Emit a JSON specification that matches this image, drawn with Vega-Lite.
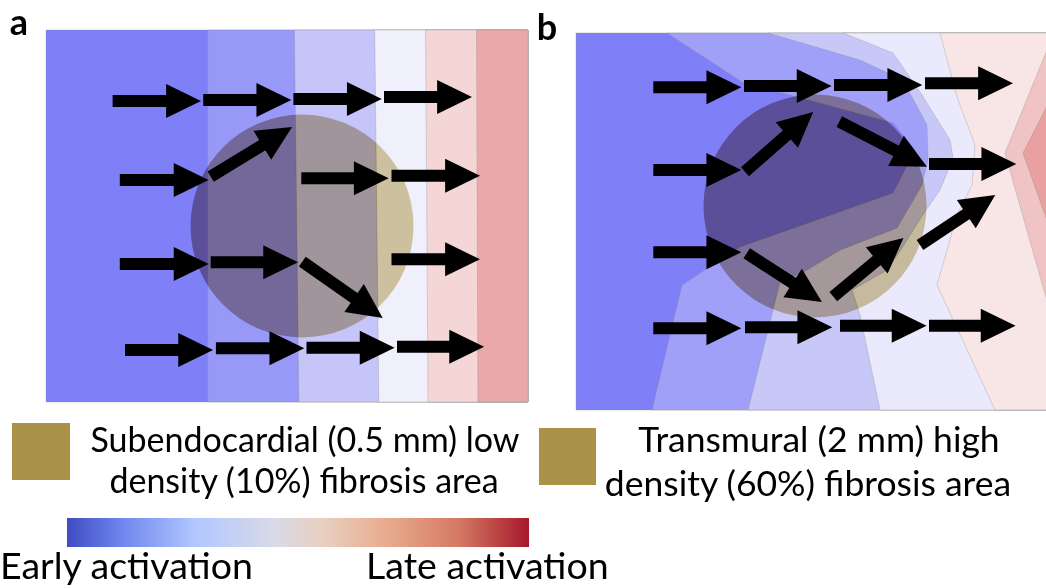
{
  "$schema": "https://vega.github.io/schema/vega-lite/v6.json",
  "width": 1046,
  "height": 588,
  "autosize": {"type": "fit", "contains": "padding"},
  "padding": 0,
  "background": "white",
  "view": {"stroke": null},
  "config": {"font": "Lato"},
  "datasets": {
    "bands": [
      {"band": "a1", "i": 0, "x": 46, "y": 30}, {"band": "a1", "i": 1, "x": 528, "y": 30}, {"band": "a1", "i": 2, "x": 528, "y": 402}, {"band": "a1", "i": 3, "x": 46, "y": 402},
      {"band": "a2", "i": 0, "x": 207.6, "y": 30}, {"band": "a2", "i": 1, "x": 528, "y": 30}, {"band": "a2", "i": 2, "x": 528, "y": 402}, {"band": "a2", "i": 3, "x": 207.6, "y": 402},
      {"band": "a3", "i": 0, "x": 294.4, "y": 30}, {"band": "a3", "i": 1, "x": 528, "y": 30}, {"band": "a3", "i": 2, "x": 528, "y": 402}, {"band": "a3", "i": 3, "x": 298.9, "y": 402},
      {"band": "a4", "i": 0, "x": 374.7, "y": 30}, {"band": "a4", "i": 1, "x": 528, "y": 30}, {"band": "a4", "i": 2, "x": 528, "y": 402}, {"band": "a4", "i": 3, "x": 378.8, "y": 402},
      {"band": "a5", "i": 0, "x": 425.6, "y": 30}, {"band": "a5", "i": 1, "x": 528, "y": 30}, {"band": "a5", "i": 2, "x": 528, "y": 402}, {"band": "a5", "i": 3, "x": 428, "y": 402},
      {"band": "a6", "i": 0, "x": 476.5, "y": 30}, {"band": "a6", "i": 1, "x": 528, "y": 30}, {"band": "a6", "i": 2, "x": 528, "y": 402}, {"band": "a6", "i": 3, "x": 477.9, "y": 402},
      {"band": "b1", "i": 0, "x": 576, "y": 33}, {"band": "b1", "i": 1, "x": 1150, "y": 33}, {"band": "b1", "i": 2, "x": 1150, "y": 410}, {"band": "b1", "i": 3, "x": 576, "y": 410},
      {"band": "b2", "i": 0, "x": 667, "y": 33}, {"band": "b2", "i": 1, "x": 742, "y": 82}, {"band": "b2", "i": 2, "x": 893, "y": 123}, {"band": "b2", "i": 3, "x": 915, "y": 150}, {"band": "b2", "i": 4, "x": 893, "y": 193}, {"band": "b2", "i": 5, "x": 740, "y": 247}, {"band": "b2", "i": 6, "x": 682, "y": 285}, {"band": "b2", "i": 7, "x": 652, "y": 410}, {"band": "b2", "i": 8, "x": 1150, "y": 410}, {"band": "b2", "i": 9, "x": 1150, "y": 33},
      {"band": "b3", "i": 0, "x": 768, "y": 33}, {"band": "b3", "i": 1, "x": 860, "y": 60}, {"band": "b3", "i": 2, "x": 903, "y": 80}, {"band": "b3", "i": 3, "x": 927, "y": 125}, {"band": "b3", "i": 4, "x": 928, "y": 160}, {"band": "b3", "i": 5, "x": 922, "y": 185}, {"band": "b3", "i": 6, "x": 897, "y": 228}, {"band": "b3", "i": 7, "x": 840, "y": 250}, {"band": "b3", "i": 8, "x": 807, "y": 270}, {"band": "b3", "i": 9, "x": 780, "y": 282}, {"band": "b3", "i": 10, "x": 748, "y": 410}, {"band": "b3", "i": 11, "x": 1150, "y": 410}, {"band": "b3", "i": 12, "x": 1150, "y": 33},
      {"band": "b4", "i": 0, "x": 843, "y": 33}, {"band": "b4", "i": 1, "x": 893, "y": 53}, {"band": "b4", "i": 2, "x": 920, "y": 92}, {"band": "b4", "i": 3, "x": 950, "y": 140}, {"band": "b4", "i": 4, "x": 953, "y": 158}, {"band": "b4", "i": 5, "x": 940, "y": 190}, {"band": "b4", "i": 6, "x": 922, "y": 216}, {"band": "b4", "i": 7, "x": 902, "y": 248}, {"band": "b4", "i": 8, "x": 887, "y": 270}, {"band": "b4", "i": 9, "x": 852, "y": 290}, {"band": "b4", "i": 10, "x": 860, "y": 315}, {"band": "b4", "i": 11, "x": 880, "y": 410}, {"band": "b4", "i": 12, "x": 1150, "y": 410}, {"band": "b4", "i": 13, "x": 1150, "y": 33},
      {"band": "b5", "i": 0, "x": 940, "y": 33}, {"band": "b5", "i": 1, "x": 957, "y": 97}, {"band": "b5", "i": 2, "x": 975, "y": 145}, {"band": "b5", "i": 3, "x": 972, "y": 185}, {"band": "b5", "i": 4, "x": 957, "y": 215}, {"band": "b5", "i": 5, "x": 937, "y": 285}, {"band": "b5", "i": 6, "x": 995, "y": 410}, {"band": "b5", "i": 7, "x": 1150, "y": 410}, {"band": "b5", "i": 8, "x": 1150, "y": 33},
      {"band": "b6", "i": 0, "x": 1054, "y": 33}, {"band": "b6", "i": 1, "x": 1005, "y": 153}, {"band": "b6", "i": 2, "x": 1078, "y": 410}, {"band": "b6", "i": 3, "x": 1150, "y": 410}, {"band": "b6", "i": 4, "x": 1150, "y": 33},
      {"band": "b7", "i": 0, "x": 1084, "y": 33}, {"band": "b7", "i": 1, "x": 1023, "y": 153}, {"band": "b7", "i": 2, "x": 1114, "y": 410}, {"band": "b7", "i": 3, "x": 1150, "y": 410}, {"band": "b7", "i": 4, "x": 1150, "y": 33}
    ],
    "fibrosis": [
      {"panel": "a", "x": 302, "y": 226},
      {"panel": "b", "x": 815, "y": 206}
    ],
    "arrows": [
      {"id": "A1", "x": 112.6, "y": 101, "x2": 168.7, "y2": 101, "ang": 0},
      {"id": "A2", "x": 203.2, "y": 100, "x2": 259, "y2": 100, "ang": 0},
      {"id": "A3", "x": 293.4, "y": 99, "x2": 349.5, "y2": 99, "ang": 0},
      {"id": "A4", "x": 384, "y": 97, "x2": 439.7, "y2": 97, "ang": 0},
      {"id": "B1", "x": 119.8, "y": 180, "x2": 176.3, "y2": 180, "ang": 0},
      {"id": "B2", "x": 210.7, "y": 176.7, "x2": 264.5, "y2": 143.9, "ang": -31.4},
      {"id": "B3", "x": 301.3, "y": 178.3, "x2": 356.4, "y2": 178.3, "ang": 0},
      {"id": "B4", "x": 391.5, "y": 175.7, "x2": 447.7, "y2": 175.7, "ang": 0},
      {"id": "C1", "x": 119.8, "y": 264, "x2": 176.3, "y2": 264, "ang": 0},
      {"id": "C2", "x": 210.7, "y": 262.3, "x2": 265.8, "y2": 262.3, "ang": 0},
      {"id": "C3", "x": 302.3, "y": 261.7, "x2": 356.2, "y2": 299.4, "ang": 34.9},
      {"id": "C4", "x": 391.5, "y": 259.3, "x2": 447.7, "y2": 259.3, "ang": 0},
      {"id": "D1", "x": 125, "y": 350, "x2": 180.8, "y2": 350, "ang": 0},
      {"id": "D2", "x": 215.9, "y": 348.3, "x2": 272, "y2": 348.3, "ang": 0},
      {"id": "D3", "x": 306.5, "y": 347.7, "x2": 362.3, "y2": 347.7, "ang": 0},
      {"id": "D4", "x": 397, "y": 346.7, "x2": 451.8, "y2": 346.7, "ang": 0},
      {"id": "E1", "x": 653.3, "y": 87.3, "x2": 709, "y2": 87.3, "ang": 0},
      {"id": "E2", "x": 744, "y": 86, "x2": 799.3, "y2": 86, "ang": 0},
      {"id": "E3", "x": 834, "y": 85, "x2": 890, "y2": 85, "ang": 0},
      {"id": "E4", "x": 925, "y": 83.3, "x2": 980.7, "y2": 83.3, "ang": 0},
      {"id": "F1", "x": 653.3, "y": 170, "x2": 709, "y2": 170, "ang": 0},
      {"id": "F2", "x": 745, "y": 171.7, "x2": 788.8, "y2": 133.3, "ang": -41},
      {"id": "F3", "x": 839.3, "y": 121.7, "x2": 898.3, "y2": 152, "ang": 27.3},
      {"id": "F4", "x": 929, "y": 164, "x2": 984, "y2": 164, "ang": 0},
      {"id": "G1", "x": 653.3, "y": 252.3, "x2": 709, "y2": 252.3, "ang": 0},
      {"id": "G2", "x": 746.7, "y": 253.3, "x2": 794.8, "y2": 284.4, "ang": 32.8},
      {"id": "G3", "x": 833.3, "y": 296.7, "x2": 878.7, "y2": 258.8, "ang": -39.8},
      {"id": "G4", "x": 920, "y": 245, "x2": 968.4, "y2": 212.8, "ang": -33.7},
      {"id": "H1", "x": 653.3, "y": 328.3, "x2": 709, "y2": 328.3, "ang": 0},
      {"id": "H2", "x": 745, "y": 327.3, "x2": 800, "y2": 327.3, "ang": 0},
      {"id": "H3", "x": 840, "y": 325.7, "x2": 894.3, "y2": 325.7, "ang": 0},
      {"id": "H4", "x": 929, "y": 325.7, "x2": 983.3, "y2": 325.7, "ang": 0}
    ],
    "swatches": [
      {"panel": "a", "x": 12, "x2": 70, "y": 423, "y2": 480},
      {"panel": "b", "x": 539, "x2": 596, "y": 428, "y2": 485}
    ],
    "colorbar": [
      {"x": 67, "x2": 529, "y": 518, "y2": 547}
    ],
    "legendTextA": [
      {"x": 305, "y": 452, "text": "Subendocardial (0.5 mm) low"},
      {"x": 304, "y": 493, "text": "density (10%) fibrosis area"}
    ],
    "legendTextB": [
      {"x": 819, "y": 452, "text": "Transmural (2 mm) high"},
      {"x": 808, "y": 496, "text": "density (60%) fibrosis area"}
    ],
    "barText": [
      {"x": 0, "y": 579, "text": "Early activation"},
      {"x": 366, "y": 579, "text": "Late activation"}
    ],
    "panelLabels": [
      {"x": 19, "y": 35, "text": "a"},
      {"x": 547, "y": 40, "text": "b"}
    ]
  },
  "encoding": {
    "x": {"field": "x", "type": "quantitative", "scale": {"domain": [0, 1046], "nice": false, "zero": false}, "axis": null},
    "y": {"field": "y", "type": "quantitative", "scale": {"domain": [0, 588], "nice": false, "zero": false, "reverse": true}, "axis": null}
  },
  "layer": [
    {
      "data": {"name": "bands"},
      "mark": {"type": "line", "interpolate": "linear-closed", "stroke": "#8a8a8a", "strokeWidth": 0.6, "strokeOpacity": 0.55, "clip": true},
      "encoding": {
        "order": {"field": "i", "type": "quantitative"},
        "detail": {"field": "band", "type": "nominal"},
        "fill": {"field": "band", "type": "nominal", "legend": null,
          "scale": {"domain": ["a1", "a2", "a3", "a4", "a5", "a6", "b1", "b2", "b3", "b4", "b5", "b6", "b7"],
                    "range": ["#7f7ff8", "#9898f8", "#c5c5fa", "#f0f0fc", "#f4d6d6", "#eaa8a8", "#7f7ff8", "#a0a0f8", "#c8c8f8", "#eaeafc", "#f8e6e6", "#f0c4c4", "#e9a0a0"]}}
      }
    },
    {
      "data": {"name": "fibrosis"},
      "mark": {"type": "point", "shape": "circle", "filled": true, "size": 49729, "fill": "#24305e", "opacity": 1, "strokeWidth": 0, "blend": "difference"},
      "encoding": {}
    },
    {
      "data": {"name": "arrows"},
      "mark": {"type": "rule", "strokeWidth": 12, "strokeCap": "butt", "color": "black"},
      "encoding": {
        "x2": {"field": "x2"},
        "y2": {"field": "y2"}
      }
    },
    {
      "data": {"name": "arrows"},
      "mark": {"type": "point", "shape": "M-0.15,-1L1.9,0L-0.15,1Z", "filled": true, "size": 1156, "color": "black", "opacity": 1, "strokeWidth": 0},
      "encoding": {
        "x": {"field": "x2", "type": "quantitative"},
        "y": {"field": "y2", "type": "quantitative"},
        "angle": {"field": "ang", "type": "quantitative", "scale": null}
      }
    },
    {
      "data": {"name": "swatches"},
      "mark": {"type": "rect", "color": "#aa9248"},
      "encoding": {
        "x2": {"field": "x2"},
        "y2": {"field": "y2"}
      }
    },
    {
      "data": {"name": "colorbar"},
      "mark": {"type": "rect", "fill": {"gradient": "linear", "x1": 0, "y1": 0, "x2": 1, "y2": 0,
        "stops": [
          {"offset": 0, "color": "#3f4cc4"},
          {"offset": 0.12, "color": "#6f86ee"},
          {"offset": 0.28, "color": "#b2c8ff"},
          {"offset": 0.45, "color": "#d8dae6"},
          {"offset": 0.55, "color": "#e8d0c2"},
          {"offset": 0.7, "color": "#e8a98c"},
          {"offset": 0.85, "color": "#d47862"},
          {"offset": 1, "color": "#a5182c"}
        ]}},
      "encoding": {
        "x2": {"field": "x2"},
        "y2": {"field": "y2"}
      }
    },
    {
      "data": {"name": "legendTextA"},
      "mark": {"type": "text", "font": "Lato", "fontSize": 34, "align": "center", "baseline": "alphabetic", "color": "black"},
      "encoding": {"text": {"field": "text"}}
    },
    {
      "data": {"name": "legendTextB"},
      "mark": {"type": "text", "font": "Lato", "fontSize": 35.5, "align": "center", "baseline": "alphabetic", "color": "black"},
      "encoding": {"text": {"field": "text"}}
    },
    {
      "data": {"name": "barText"},
      "mark": {"type": "text", "font": "Lato", "fontSize": 37.5, "align": "left", "baseline": "alphabetic", "color": "black"},
      "encoding": {"text": {"field": "text"}}
    },
    {
      "data": {"name": "panelLabels"},
      "mark": {"type": "text", "font": "Lato", "fontSize": 36, "fontWeight": "bold", "align": "center", "baseline": "alphabetic", "color": "black"},
      "encoding": {"text": {"field": "text"}}
    }
  ]
}
